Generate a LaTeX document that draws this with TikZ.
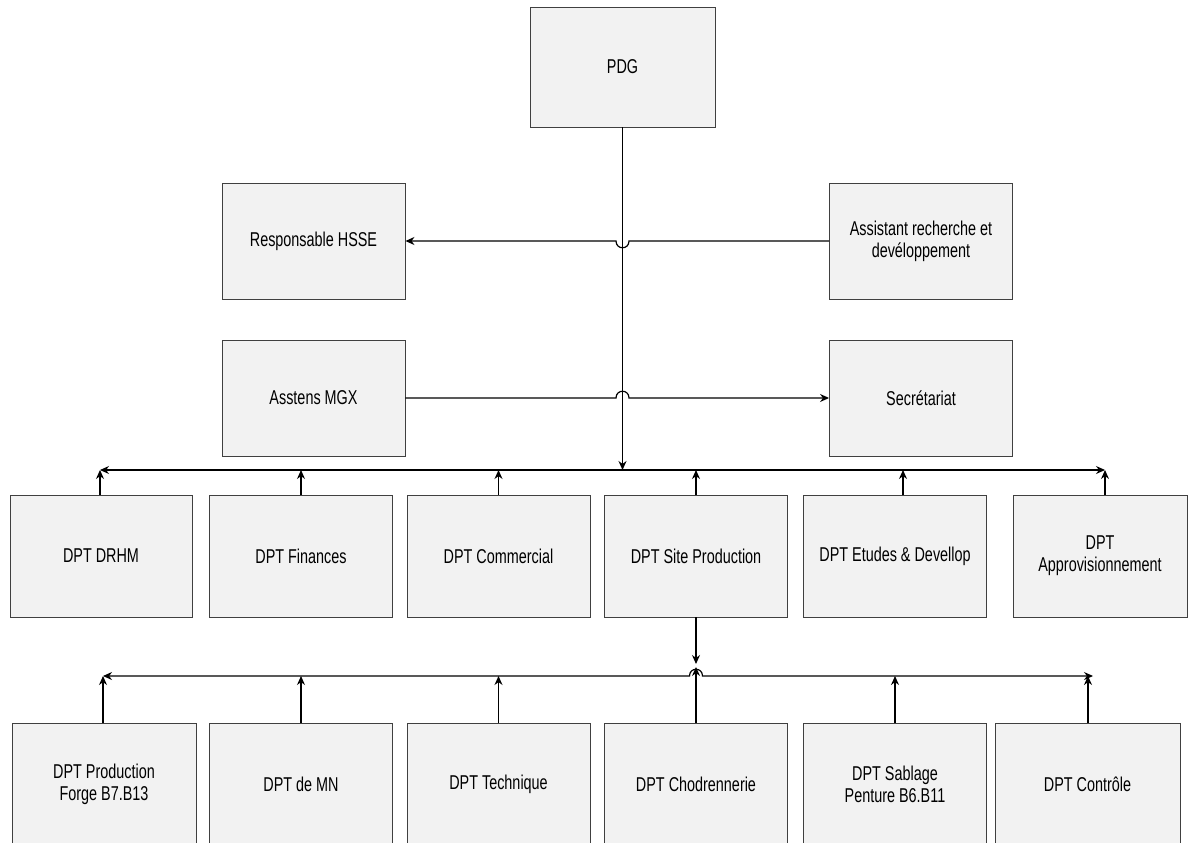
\documentclass[tikz,border=0pt]{standalone}
\usepackage{fontspec}
\newfontfamily\orgfont[FakeStretch=0.72]{Liberation Sans}
\usetikzlibrary{arrows.meta}

\begin{document}
\begin{tikzpicture}[x=1pt, y=-1pt,
  poste/.style={draw=black!75, line width=0.9pt, fill=black!5, inner sep=0pt,
    align=center, minimum width=183pt, minimum height=122pt,
    font=\orgfont\fontsize{20}{22}\selectfont},
  lien/.style={line width=1.2pt, -{Stealth[length=9pt, width=8pt]}},
  bus/.style={line width=1.2pt, {Stealth[length=9pt, width=8pt]}-{Stealth[length=9pt, width=8pt]}}]
\useasboundingbox (0,0) rectangle (1189,843);

\node[poste, minimum width=185pt, minimum height=120pt] (pdg) at (622.5,67) {PDG};
\node[poste, minimum height=116pt] (hsse) at (313.5,241) {Responsable HSSE};
\node[poste, minimum height=116pt] (assist) at (921,241) {Assistant recherche et\\devéloppement};
\node[poste, minimum height=116pt] (mgx) at (313.5,398) {Asstens MGX};
\node[poste, minimum height=116pt] (secr) at (921,398) {Secrétariat};

\node[poste, minimum width=182pt] (drhm) at (101,556) {DPT DRHM};
\node[poste] (fin) at (301,556) {DPT Finances};
\node[poste] (com) at (498.5,556) {DPT Commercial};
\node[poste] (site) at (696,556) {DPT Site Production};
\node[poste] (etud) at (895,556) {DPT Etudes \& Devellop};
\node[poste, minimum width=174pt] (appro) at (1100,556) {DPT\\Approvisionnement};

\node[poste, minimum width=184pt] (forge) at (104,784) {DPT Production\\Forge B7.B13};
\node[poste] (mn) at (301,784) {DPT de MN};
\node[poste] (tech) at (498.5,784) {DPT Technique};
\node[poste] (chod) at (696,784) {DPT Chodrennerie};
\node[poste] (sabl) at (895,784) {DPT Sablage\\Penture B6.B11};
\node[poste, minimum width=185pt] (ctrl) at (1087.5,784) {DPT Contrôle};

% liaisons direction
\coordinate (hub) at (622.5,470);
\draw[lien] (pdg) -- (hub);
\draw[lien] (assist) -- (629,241) .. controls (629,250) and (616,250) .. (616,241) -- (hsse);
\draw[lien] (mgx) -- (616,398) .. controls (616,389) and (629,389) .. (629,398) -- (secr);

% departements
\coordinate (h1) at (100,470);
\coordinate (h6) at (1105,470);
\draw[bus] (h1) -- (h6);
\draw[lien] (drhm.north -| h1) -- (h1);
\draw[lien] (fin) -- (301,470);
\draw[lien] (com) -- (498.5,470);
\draw[lien] (site) -- (696,470);
\draw[lien] (etud.north -| 903,0) -- (903,470);
\draw[lien] (appro.north -| h6) -- (h6);

% site production
\coordinate (g1) at (103,676);
\coordinate (g6) at (1093,676);
\draw[lien] (site) -- (696,664);
\draw[bus] (g1) -- (689.5,676) .. controls (689.5,667) and (702.5,667) .. (702.5,676) -- (g6);
\draw[lien] (forge.north -| g1) -- (g1);
\draw[lien] (mn) -- (301,676);
\draw[lien] (tech) -- (498.5,676);
\draw[lien] (chod) -- (696,667);
\draw[lien] (sabl) -- (895,676);
\draw[lien] (ctrl.north -| 1088,0) -- (1088,676);
\end{tikzpicture}
\end{document}
